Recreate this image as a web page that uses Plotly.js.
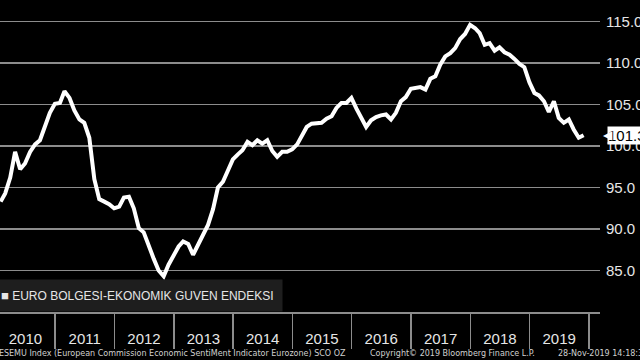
<!DOCTYPE html>
<html>
<head>
<meta charset="utf-8">
<script src="https://cdn.plot.ly/plotly-3.0.1.min.js"></script>
<style>
  html, body { margin: 0; padding: 0; background: #000; }
  #chart { width: 640px; height: 360px; }
</style>
</head>
<body>
<div id="chart"></div>
<script>
// Monthly series, Jan 2010 .. Nov 2019
const startYear = 2010;
const startMonth = 1;
const seriesName = 'EURO BOLGESI-EKONOMIK GUVEN ENDEKSI';
const esiValues = [
  93.3, 94.3, 96.2, 99.3, 97.2, 97.9, 99.3, 100.2, 100.7, 102.3, 104.0, 105.1,
  105.2, 106.6, 105.8, 104.3, 103.2, 102.8, 101.0, 96.0, 93.6, 93.3, 93.0, 92.5,
  92.7, 93.8, 93.9, 92.5, 90.1, 89.6, 87.9, 86.4, 85.0, 84.3, 85.7, 86.8,
  87.9, 88.5, 88.2, 86.9, 88.1, 89.1, 90.5, 92.4, 95.0, 95.7, 97.1, 98.4,
  99.0, 99.5, 100.5, 100.1, 100.7, 100.3, 100.7, 99.4, 98.7, 99.3, 99.3, 99.6,
  100.2, 101.2, 102.3, 102.7, 102.8, 102.8, 103.3, 103.6, 104.6, 105.2, 105.2, 105.8,
  104.5, 103.3, 102.3, 103.1, 103.5, 103.7, 103.8, 103.2, 104.0, 105.4, 105.9, 106.9,
  107.0, 107.1, 106.8, 108.1, 108.4, 109.8, 110.8, 111.2, 111.8, 112.9, 113.5, 114.6,
  114.2, 113.6, 112.2, 112.4, 111.5, 111.9, 111.3, 111.0, 110.5, 109.9, 109.5, 107.7,
  106.4, 106.1, 105.4, 104.1, 105.4, 103.4, 102.8, 103.2, 102.0, 101.0, 101.3
];
const yTickVals = [85, 90, 95, 100, 105, 110, 115];
const yTickText = ['85.0', '90.0', '95.0', '100.0', '105.0', '110.0', '115.0'];
const footerLeft = 'EUESEMU Index (European Commission Economic SentiMent Indicator Eurozone) SCO OZ';
const footerMid = 'Copyright\u00A9 2019 Bloomberg Finance L.P.';
const footerRight = '28-Nov-2019 14:18:34';

// month-end dates for each observation
function monthEnd(i) {
  const d = new Date(Date.UTC(startYear, startMonth - 1 + i + 1, 0));
  return d.toISOString().slice(0, 10);
}
const dates = esiValues.map((_, i) => monthEnd(i));
const lastVal = esiValues[esiValues.length - 1];

const grey = '#8c8c8c';
const textCol = '#e6e6e6';

const trace = {
  type: 'scatter',
  mode: 'lines',
  x: dates,
  y: esiValues,
  name: seriesName,
  line: { color: '#ffffff', width: 4 },
  showlegend: false,
  hoverinfo: 'x+y'
};

const layout = {
  width: 640,
  height: 360,
  paper_bgcolor: '#000000',
  plot_bgcolor: '#000000',
  margin: { l: 0, r: 40, t: 0, b: 48, pad: 0 },
  showlegend: false,
  xaxis: {
    type: 'date',
    range: ['2010-01-27', '2020-03-10'],
    showgrid: false,
    zeroline: false,
    showline: true,
    linecolor: grey,
    linewidth: 1.5,
    ticks: 'outside',
    ticklen: 35,
    tickwidth: 1.5,
    tickcolor: grey,
    tick0: '2010-01-01',
    dtick: 'M12',
    tickformat: '%Y',
    ticklabelmode: 'period',
    ticklabelstandoff: -23,
    tickfont: { family: 'Liberation Sans, Arial, sans-serif', size: 15, color: textCol },
    fixedrange: true
  },
  yaxis: {
    side: 'right',
    range: [80, 117.6],
    tickvals: yTickVals,
    ticktext: yTickText,
    showgrid: true,
    gridcolor: grey,
    gridwidth: 1.5,
    zeroline: false,
    showline: false,
    ticks: '',
    ticklabelstandoff: 5,
    tickfont: { family: 'Liberation Sans, Arial, sans-serif', size: 15, color: textCol },
    fixedrange: true
  },
  annotations: [
    {
      xref: 'paper', yref: 'paper', x: 0, y: 0,
      xanchor: 'left', yanchor: 'bottom', xshift: -8, yshift: 0,
      text: '<span style="font-size:13px">\u25A0</span> ' + seriesName,
      showarrow: false,
      align: 'left',
      bgcolor: '#1e1e1e',
      borderpad: 8,
      font: { family: 'Liberation Sans, Arial, sans-serif', size: 12, color: textCol }
    },
    {
      xref: 'paper', yref: 'paper', x: 0, y: 0,
      xanchor: 'left', yanchor: 'middle', xshift: -14, yshift: -41,
      text: footerLeft, showarrow: false,
      font: { family: 'DejaVu Sans, Verdana, sans-serif', size: 8, color: '#d0d0d0' }
    },
    {
      xref: 'paper', yref: 'paper', x: 368 / 600, y: 0,
      xanchor: 'left', yanchor: 'middle', yshift: -41,
      text: footerMid, showarrow: false,
      font: { family: 'DejaVu Sans, Verdana, sans-serif', size: 8, color: '#d0d0d0' }
    },
    {
      xref: 'paper', yref: 'paper', x: 556 / 600, y: 0,
      xanchor: 'left', yanchor: 'middle', yshift: -41,
      text: footerRight, showarrow: false,
      font: { family: 'DejaVu Sans, Verdana, sans-serif', size: 8, color: '#d0d0d0' }
    },
    {
      xref: 'paper', yref: 'y', x: 1, y: lastVal,
      xanchor: 'left', yanchor: 'middle', xshift: 7,
      text: lastVal.toFixed(1), showarrow: false,
      bgcolor: '#ffffff', borderpad: 0,
      font: { family: 'Liberation Sans, Arial, sans-serif', size: 15, color: '#000000' }
    },
    {
      xref: 'paper', yref: 'y', x: 1, y: lastVal,
      xanchor: 'left', yanchor: 'middle', xshift: 1,
      text: '\u25C0', showarrow: false,
      font: { family: 'DejaVu Sans, sans-serif', size: 12, color: '#ffffff' }
    }
  ]
};

Plotly.newPlot('chart', [trace], layout, { staticPlot: true, displayModeBar: false });
</script>
</body>
</html>
